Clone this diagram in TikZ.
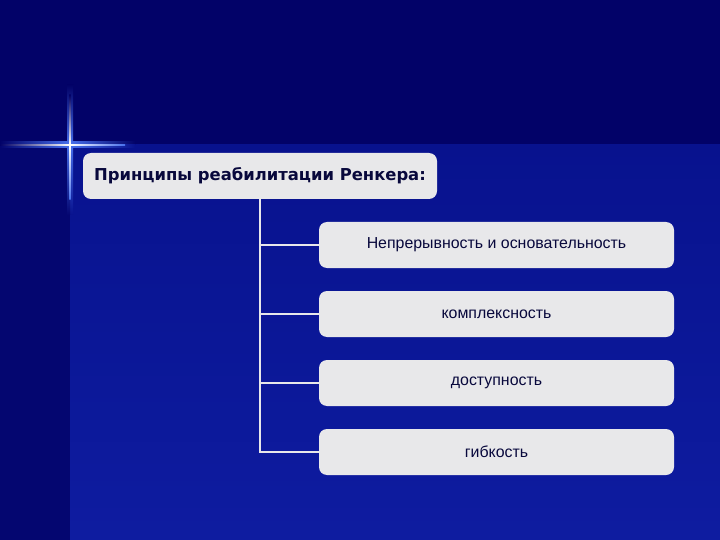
\documentclass[tikz,border=0pt]{standalone}
\usepackage{fontspec}
\setmainfont{Liberation Sans}
\newfontfamily\titlefont{DejaVu Sans}
\usetikzlibrary{positioning}
\definecolor{bgtop}{RGB}{2,2,104}
\definecolor{bgside}{RGB}{4,6,112}
\definecolor{bgpanel}{RGB}{8,18,142}
\definecolor{bgpanellow}{RGB}{14,28,160}
\definecolor{boxfill}{RGB}{232,232,234}
\definecolor{boxtext}{RGB}{8,8,60}
\definecolor{glow}{RGB}{70,110,235}

\begin{document}
\begin{tikzpicture}[x=1pt,y=-1pt,
  box/.style={fill=boxfill,rounded corners=8pt,minimum width=355pt,minimum height=46pt,
    inner sep=0pt,text=boxtext,font=\fontsize{15.9}{18}\selectfont},
  headbox/.style={box,minimum width=354pt,font=\titlefont\bfseries\fontsize{16.4}{18}\selectfont},
  link/.style={draw=boxfill,line width=2pt}]
\useasboundingbox (0,0) rectangle (720,540);
% background
\fill[bgtop] (0,0) rectangle (720,540);
\fill[bgside] (0,145) rectangle (70,540);
\shade[top color=bgpanel,bottom color=bgpanellow] (70,145) rectangle (720,540);
% glint
\shade[top color=bgtop,bottom color=glow] (67,85) rectangle (73,145);
\shade[top color=glow,bottom color=bgpanel] (70,145) rectangle (73,215);
\shade[top color=glow,bottom color=bgside] (67,145) rectangle (70,215);
\shade[left color=bgtop,right color=glow] (0,142) rectangle (70,145);
\shade[left color=bgside,right color=glow] (0,145) rectangle (70,148);
\shade[left color=glow,right color=bgtop] (70,142) rectangle (135,145);
\shade[left color=glow,right color=bgpanel] (70,145) rectangle (135,148);
\shade[top color=bgtop,bottom color=white] (69.3,95) rectangle (70.7,145);
\shade[top color=white,bottom color=glow] (69.3,145) rectangle (70.7,200);
\shade[left color=bgtop,right color=white] (0,144.3) rectangle (70,145.7);
\shade[left color=white,right color=glow] (70,144.3) rectangle (125,145.7);
% nodes
\node[headbox](n0) at (260,176){Принципы реабилитации Ренкера:};
\node[box](n1) at (496.5,245){Непрерывность и основательность};
\node[box](n2) at (496.5,314){комплексность};
\node[box](n3) at (496.5,383){доступность};
\node[box](n4) at (496.5,452){гибкость};
% links
\path[link](n0.south)|-(n1.west);
\path[link](n0.south)|-(n2.west);
\path[link](n0.south)|-(n3.west);
\path[link](n0.south)|-(n4.west);
\end{tikzpicture}
\end{document}
